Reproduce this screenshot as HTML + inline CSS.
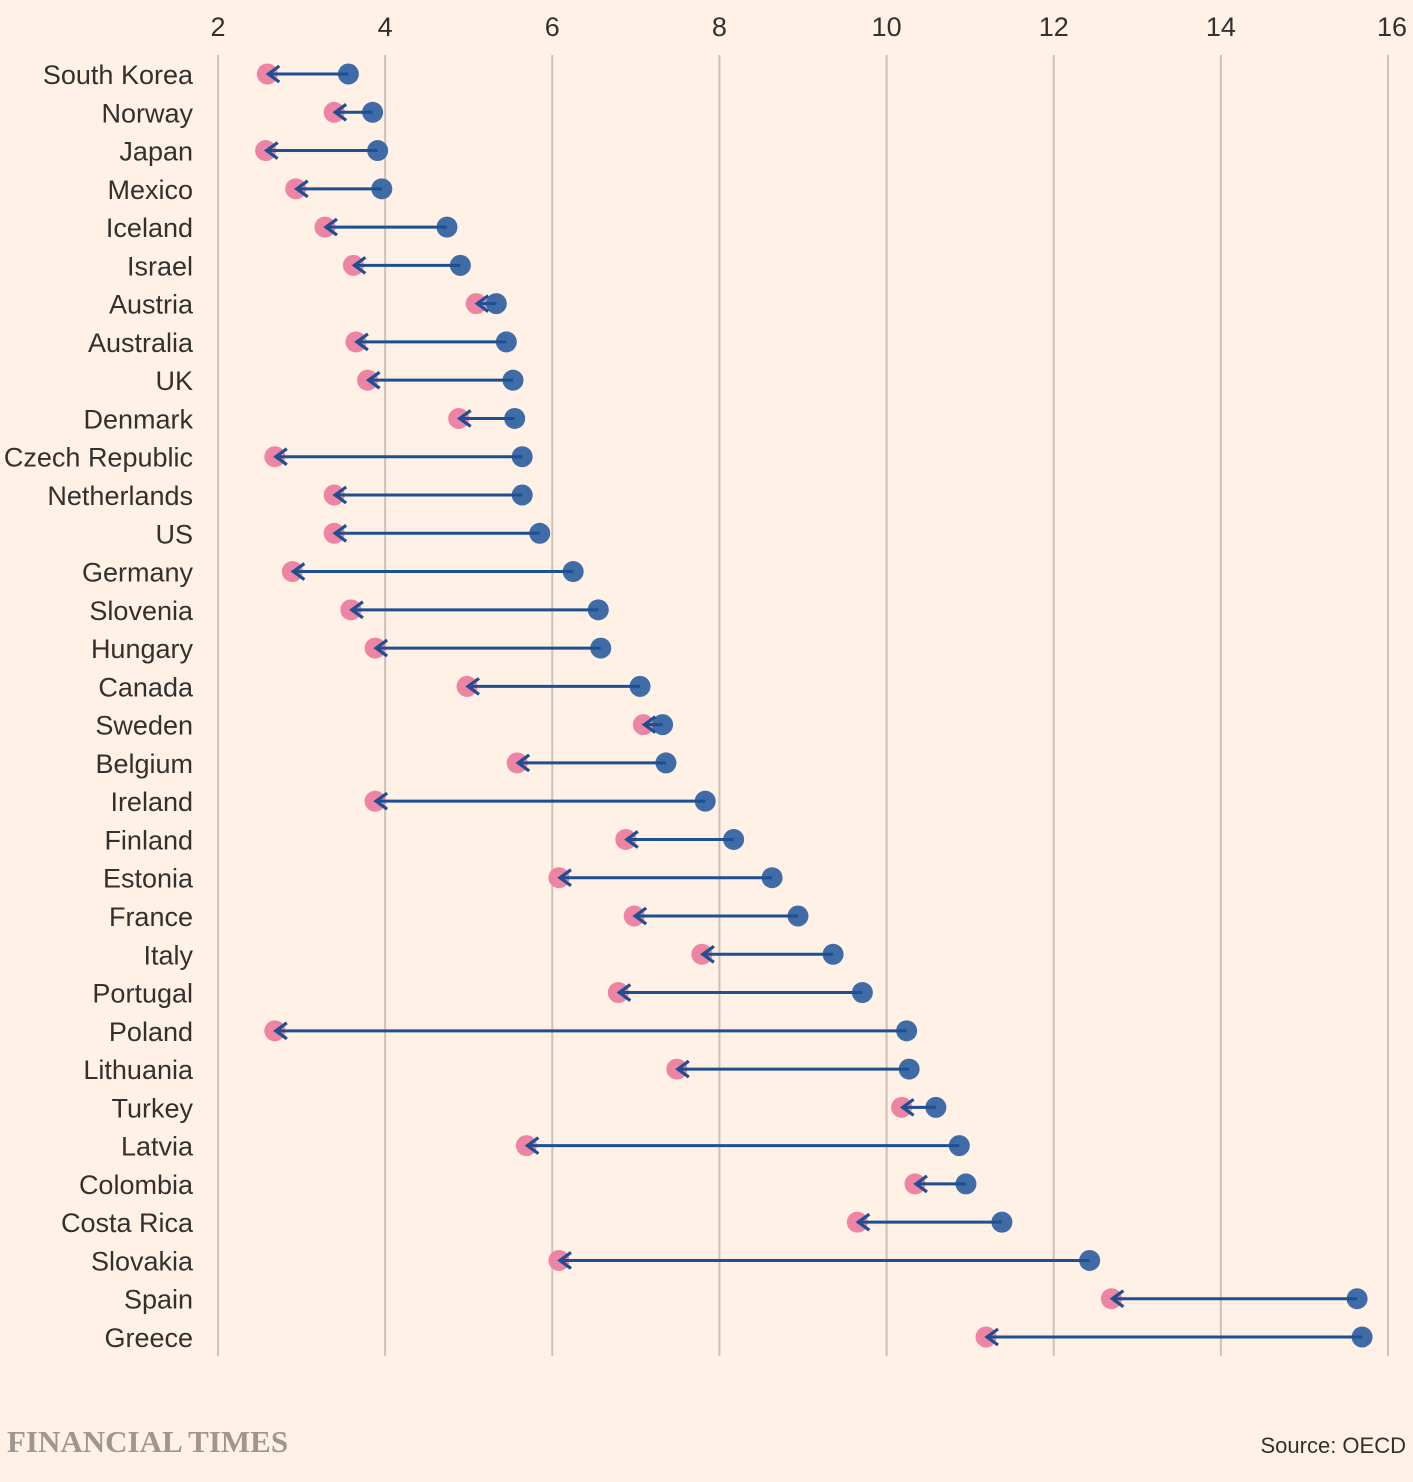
<!DOCTYPE html>
<html><head><meta charset="utf-8">
<style>
html,body{margin:0;padding:0;background:#fff1e5;}
body{width:1413px;height:1482px;overflow:hidden;position:relative;font-family:"Liberation Sans",sans-serif;}
svg{position:absolute;left:0;top:0;}
</style></head>
<body>
<svg id="chart" width="1413" height="1482" xmlns="http://www.w3.org/2000/svg">
<g id="grid"></g>
<g id="xticks"></g>
<g id="ylabels"></g>
<g id="marks"></g>
<text x="7" y="1452" font-family="Liberation Serif, serif" font-weight="bold" font-size="31" fill="#9e9690">FINANCIAL TIMES</text>
<text x="1406" y="1453" text-anchor="end" font-size="22" fill="#33302e">Source: OECD</text>
</svg>
<script>
const countries = ["South Korea","Norway","Japan","Mexico","Iceland","Israel","Austria","Australia","UK","Denmark","Czech Republic","Netherlands","US","Germany","Slovenia","Hungary","Canada","Sweden","Belgium","Ireland","Finland","Estonia","France","Italy","Portugal","Poland","Lithuania","Turkey","Latvia","Colombia","Costa Rica","Slovakia","Spain","Greece"];
const fromValues = [3.56,3.85,3.91,3.96,4.74,4.90,5.33,5.45,5.53,5.55,5.64,5.64,5.85,6.25,6.55,6.58,7.05,7.32,7.36,7.83,8.17,8.63,8.94,9.36,9.71,10.24,10.27,10.59,10.87,10.95,11.38,12.43,15.63,15.69];
const toValues = [2.59,3.39,2.57,2.93,3.28,3.62,5.09,3.65,3.79,4.88,2.68,3.39,3.39,2.89,3.59,3.88,4.98,7.09,5.58,3.88,6.88,6.08,6.98,7.79,6.79,2.68,7.49,10.18,5.69,10.34,9.65,6.08,12.69,11.19];
const xTicks = [2,4,6,8,10,12,14,16];

const NS="http://www.w3.org/2000/svg";
const x = v => 218 + (v-2)*(1388-218)/14;
const y = i => 74 + i*(1337-74)/(countries.length-1);
function mk(tag, attrs, parent){const e=document.createElementNS(NS,tag);for(const k in attrs)e.setAttribute(k,attrs[k]);parent.appendChild(e);return e;}
const grid=document.getElementById('grid'), xt=document.getElementById('xticks'), yl=document.getElementById('ylabels'), marks=document.getElementById('marks');
xTicks.forEach(t=>{
  const l=mk('line',{x1:x(t),x2:x(t),y1:55,y2:1356,stroke:'#cdc1b8','stroke-width':2},grid);
  
  
  const tx=mk('text',{x:x(t)+(t===16?4:0),y:36,'text-anchor':'middle','font-size':27,fill:'#33302e'},xt);
  tx.textContent=t;
  
  
});
countries.forEach((c,i)=>{
  const yy=y(i);
  const lab=mk('text',{x:193,y:yy+10,'text-anchor':'end','font-size':27,fill:'#33302e'},yl);
  lab.textContent=c;
  
  
  const g=mk('g',{},marks);
  
  
  const xp=x(toValues[i]), xb=x(fromValues[i]);
  const p=mk('circle',{cx:xp,cy:yy,r:10.5,fill:'#ee84a3'},g);
  
  
  const b=mk('circle',{cx:xb,cy:yy,r:10.5,fill:'#3f6ca6'},g);
  
  
  const ln=mk('line',{x1:xb,x2:xp+2,y1:yy,y2:yy,stroke:'#1e4f92','stroke-width':3},g);
  
  
  const ah=mk('polyline',{points:`${xp+12},${yy-8} ${xp+1},${yy} ${xp+12},${yy+8}`,fill:'none',stroke:'#1e4f92','stroke-width':3.2},g);
  
  
});
</script>
</body></html>
